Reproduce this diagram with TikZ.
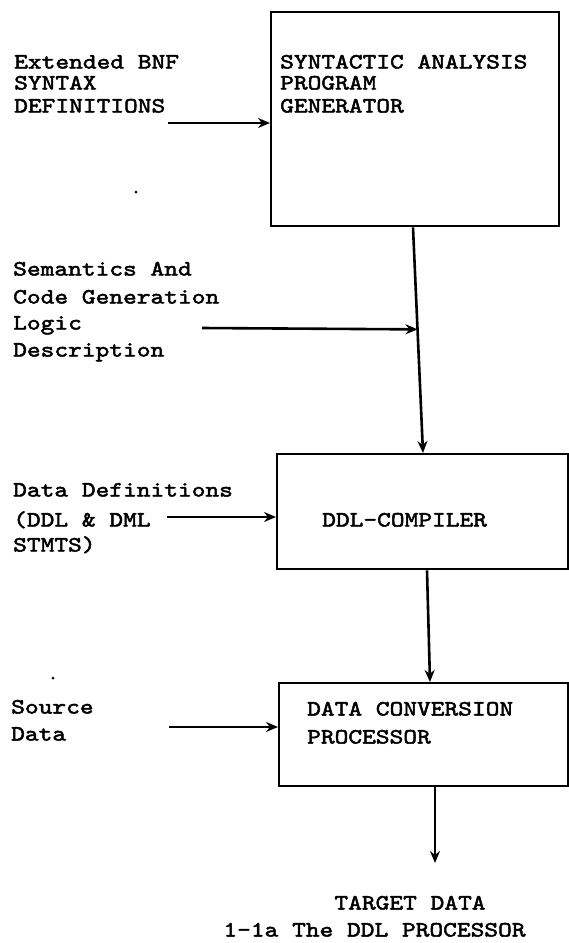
\documentclass[tikz,border=0pt]{standalone}
\usepackage{fontspec}
\usetikzlibrary{arrows.meta,calc}
\newfontfamily\twf{lmmono10-regular.otf}[FakeBold=2.2,FakeStretch=1.2]
\begin{document}
\begin{tikzpicture}[x=1pt,y=-1pt,
  lbl/.style={anchor=base west,inner sep=0pt,font=\twf\fontsize{21.8}{22}\selectfont},
  box/.style={draw,line width=2.4pt,inner sep=0pt},
  conn/.style={line width=2.6pt,-{Stealth[length=12pt,width=10pt]}},
  speck/.style={fill,circle,inner sep=0pt,minimum size=3pt}]
\useasboundingbox (0,0) rectangle (569,943);
% boxes
\node[box,minimum width=288pt,minimum height=214pt,anchor=north west] (b1) at (270,11) {};
\node[box,minimum width=291pt,minimum height=115pt,anchor=north west] (b2) at (276,453) {};
\node[box,minimum width=289pt,minimum height=103pt,anchor=north west] (b3) at (278,682) {};
% box texts
\node[lbl] (t1a) at (280,68.5) {SYNTACTIC ANALYSIS};
\node[lbl] (t1b) at (280,89.5) {PROGRAM};
\node[lbl] (t1c) at (280,112.5) {GENERATOR};
\node[lbl] (t2) at (322,526.5) {DDL-COMPILER};
\node[lbl] (t3a) at (307,715.5) {DATA CONVERSION};
\node[lbl] (t3b) at (307,743.5) {PROCESSOR};
% left labels
\node[lbl] (l1a) at (14,68.5) {Extended BNF};
\node[lbl] (l1b) at (14,89.5) {SYNTAX};
\node[lbl] (l1c) at (14,112.5) {DEFINITIONS};
\node[lbl] (l2a) at (13,275.5) {Semantics And};
\node[lbl] (l2b) at (13,303.5) {Code Generation};
\node[lbl] (l2c) at (13,329.5) {Logic};
\node[lbl] (l2d) at (13,356.5) {Description};
\node[lbl] (l3a) at (13,496.5) {Data Definitions};
\node[lbl] (l3b) at (13,526.5) {(DDL \& DML};
\node[lbl] (l3c) at (13,551.5) {STMTS)};
\node[lbl] (l4a) at (11,713.5) {Source};
\node[lbl] (l4b) at (11,740.5) {Data};
% bottom texts
\node[lbl,anchor=base] (tg) at (410,909.5) {TARGET DATA};
\node[lbl,anchor=base] (cap) at (374.5,936.5) {1-1a The DDL PROCESSOR};
% specks
\node[speck] (d1) at (136,192) {};
\node[speck] (d2) at (53,678) {};
% connector points
\coordinate (s1) at (168,123);
\coordinate (s2) at (202,328);
\coordinate (s3) at (167,517);
\coordinate (s4) at (169,727);
\coordinate (v1t) at (413,0);
\coordinate (v1b) at (423,0);
\coordinate (v2t) at (427,0);
\coordinate (v2b) at (430,0);
\coordinate (v3) at (435,0);
\coordinate (endp) at (435,863);
% connectors
\draw[conn] (s1) -- (s1 -| b1.west);
\draw[conn] (v1t |- b1.south) -- (v1b |- b2.north);
\draw[conn] (s2) -- ($(v1t |- b1.south)!0.452!(v1b |- b2.north)$);
\draw[conn] (s3) -- (s3 -| b2.west);
\draw[conn] (v2t |- b2.south) -- (v2b |- b3.north);
\draw[conn] (s4) -- (s4 -| b3.west);
\draw[conn] (v3 |- b3.south) -- (endp);
\end{tikzpicture}
\end{document}
